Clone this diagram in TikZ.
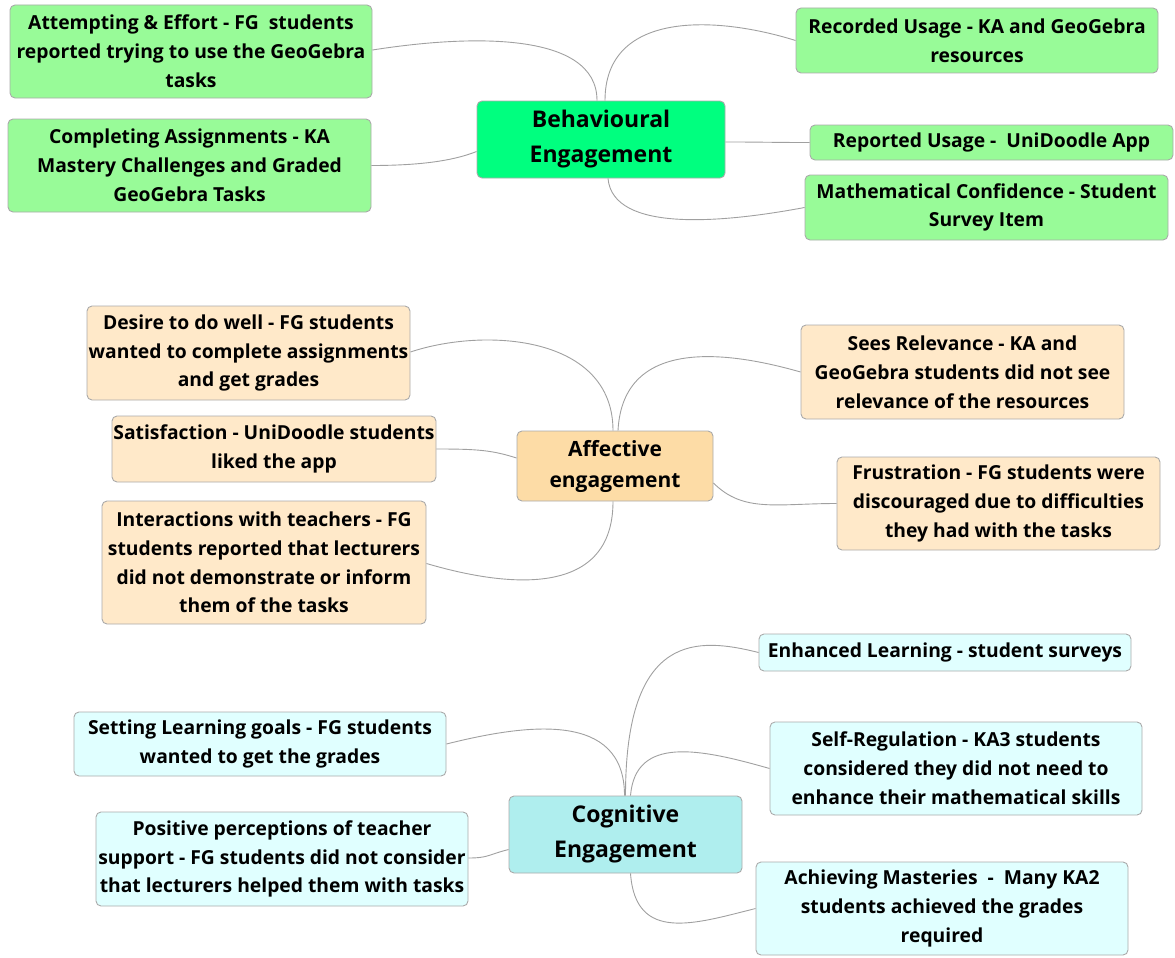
\documentclass[tikz,border=0pt]{standalone}
\usepackage{fontspec}
\setmainfont{Open Sans}
\definecolor{gleaf}{HTML}{98FB98}
\definecolor{gcen}{HTML}{00FF7F}
\definecolor{oleaf}{HTML}{FFE9C9}
\definecolor{ocen}{HTML}{FDDCA6}
\definecolor{cleaf}{HTML}{E0FFFF}
\definecolor{ccen}{HTML}{AFEEEE}
\definecolor{bord}{HTML}{AAAAAA}
\definecolor{lnk}{HTML}{A0A0A0}
\begin{document}
\begin{tikzpicture}[x=1pt,y=-1pt,
  box/.style={draw=bord,line width=0.9pt,rounded corners=5pt,inner sep=0pt,align=center,
    font=\bfseries\fontsize{19.3}{28.8}\selectfont},
  cen/.style={box,font=\bfseries\fontsize{23}{35}\selectfont},
  conn/.style={draw=lnk,line width=0.9pt}]
\useasboundingbox (0,0) rectangle (1175,958);
% Behavioural
\node[box,fill=gleaf,minimum width=362,minimum height=93] (att) at (191,51.5) {Attempting \& Effort - FG\ \ students\\reported trying to use the GeoGebra\\tasks};
\node[box,fill=gleaf,minimum width=363,minimum height=93] (comp) at (189.5,165.5) {Completing Assignments - KA\\Mastery Challenges and Graded\\GeoGebra Tasks};
\node[cen,fill=gcen,minimum width=248,minimum height=77] (beh) at (601,139.5) {Behavioural\\Engagement};
\node[box,fill=gleaf,minimum width=362,minimum height=65] (rec) at (977,40.5) {Recorded Usage - KA and GeoGebra\\resources};
\node[box,fill=gleaf,minimum width=363,minimum height=35] (rep) at (991.5,142.5) {Reported Usage -\ \ UniDoodle App};
\node[box,fill=gleaf,minimum width=363,minimum height=65] (math) at (986.5,207.5) {Mathematical Confidence - Student\\Survey Item};
% Affective
\node[box,fill=oleaf,minimum width=323,minimum height=94] (des) at (248.5,353) {Desire to do well - FG students\\wanted to complete assignments\\and get grades};
\node[box,fill=oleaf,minimum width=324,minimum height=66] (sat) at (274,449) {Satisfaction - UniDoodle students\\liked the app};
\node[box,fill=oleaf,minimum width=324,minimum height=123] (int) at (264,562.5) {Interactions with teachers - FG\\students reported that lecturers\\did not demonstrate or inform\\them of the tasks};
\node[cen,fill=ocen,minimum width=196,minimum height=70,font=\bfseries\fontsize{21}{31}\selectfont] (aff) at (615,466) {Affective\\engagement};
\node[box,fill=oleaf,minimum width=323,minimum height=94] (rel) at (962.5,372) {Sees Relevance - KA and\\GeoGebra students did not see\\relevance of the resources};
\node[box,fill=oleaf,minimum width=323,minimum height=93] (fru) at (998.5,503.5) {Frustration - FG students were\\discouraged due to difficulties\\they had with the tasks};
% Cognitive
\node[box,fill=cleaf,minimum width=372,minimum height=37] (enh) at (945,652.5) {Enhanced Learning - student surveys};
\node[box,fill=cleaf,minimum width=372,minimum height=64] (set) at (260,744) {Setting Learning goals - FG students\\wanted to get the grades};
\node[box,fill=cleaf,minimum width=372,minimum height=93] (self) at (956,768.5) {Self-Regulation - KA3 students\\considered they did not need to\\enhance their mathematical skills};
\node[box,fill=cleaf,minimum width=372,minimum height=94] (pos) at (282,859) {Positive perceptions of teacher\\support - FG students did not consider\\that lecturers helped them with tasks};
\node[cen,fill=ccen,minimum width=233,minimum height=77] (cog) at (625.5,834.5) {Cognitive\\Engagement};
\node[box,fill=cleaf,minimum width=372,minimum height=93] (ach) at (942,908.5) {Achieving Masteries\ \ -\ \ Many KA2\\students achieved the grades\\required};
% connectors behavioural
\draw[conn] ([xshift=-4]beh.north) .. controls +(0,-70) and +(95,-15) .. ([yshift=1.5]att.east);
\draw[conn] ([xshift=4]beh.north) .. controls +(0,-90) and +(-80,-25) .. (rec.west);
\draw[conn] ([yshift=-12]beh.west) .. controls +(-25,10) and +(45,0) .. (comp.east);
\draw[conn] ([yshift=-2.5]beh.east) .. controls +(40,0) and +(-40,0) .. (rep.west);
\draw[conn] ([xshift=7]beh.south) .. controls +(5,55) and +(-80,15) .. (math.west);
% connectors affective
\draw[conn] ([xshift=-2]aff.north) .. controls +(0,-95) and +(75,-25) .. ([yshift=1]des.east);
\draw[conn] ([xshift=3]aff.north) .. controls +(5,-95) and +(-70,-20) .. (rel.west);
\draw[conn] ([yshift=8]aff.west) .. controls +(-25,-8) and +(40,0) .. (sat.east);
\draw[conn] ([yshift=-17]aff.east) .. controls +(30,30) and +(-60,0) .. (fru.west);
\draw[conn] ([xshift=-2]aff.south) .. controls +(0,95) and +(85,25) .. ([yshift=-1]int.east);
% connectors cognitive
\draw[conn] (cog.north) .. controls +(0,-165) and +(-60,-15) .. (enh.west);
\draw[conn] ([xshift=-1]cog.north) .. controls +(0,-85) and +(80,-20) .. (set.east);
\draw[conn] ([xshift=5]cog.north) .. controls +(5,-60) and +(-70,-20) .. (self.west);
\draw[conn] ([yshift=-15]cog.west) .. controls +(-20,5) and +(20,0) .. ([yshift=1]pos.east);
\draw[conn] ([xshift=5]cog.south) .. controls +(5,70) and +(-60,15) .. (ach.west);
\end{tikzpicture}
\end{document}
